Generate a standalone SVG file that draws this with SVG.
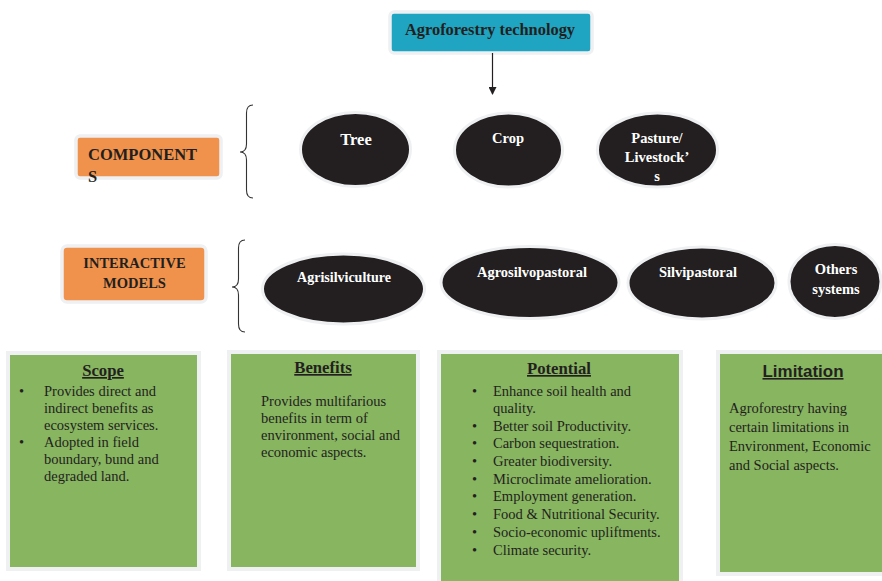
<svg xmlns="http://www.w3.org/2000/svg" width="882" height="581" viewBox="0 0 882 581">
  <defs>
    <style>
      .title { font-family: "Liberation Serif", "Times New Roman", serif; font-weight: bold; font-size: 16.4px; fill: #231F20; }
      .label { font-family: "Liberation Serif", "Times New Roman", serif; font-weight: bold; fill: #231F20; }
      .oval { fill: #231F20; stroke: #EEF0F2; stroke-width: 3; }
      .oval-text { font-family: "Liberation Serif", "Times New Roman", serif; font-weight: bold; fill: #FFFFFF; text-anchor: middle; }
      .orange { fill: #F0924B; stroke: #EEF0F2; stroke-width: 3.5; }
      .green { fill: #88B560; stroke: #EEF0F2; stroke-width: 4; }
      .body { font-family: "Liberation Serif", "Times New Roman", serif; font-size: 14.5px; fill: #231F20; }
      .head { font-family: "Liberation Serif", "Times New Roman", serif; font-weight: bold; font-size: 16.7px; fill: #231F20; text-anchor: middle; text-decoration: underline; }
      .brace { fill: none; stroke: #333333; stroke-width: 1.1; }
    </style>
    <marker id="arrowhead" markerWidth="8" markerHeight="8" refX="7" refY="4" orient="auto" markerUnits="userSpaceOnUse">
      <path d="M0,0 L8,4 L0,8 Z" fill="#231F20"/>
    </marker>
  </defs>

  <rect width="882" height="581" fill="#FFFFFF"/>

  <!-- root node -->
  <g id="agroforestry-technology">
    <rect x="390" y="12" width="202" height="41" rx="4" fill="#1FA4C1" stroke="#EEF0F2" stroke-width="3.5"/>
    <text class="title" x="490" y="35" text-anchor="middle">Agroforestry technology</text>
  </g>

  <!-- connectors -->
  <g id="connectors">
    <line x1="492.5" y1="53" x2="492.5" y2="94" stroke="#231F20" stroke-width="1.2" marker-end="url(#arrowhead)"/>
    <path class="brace" d="M253,105 Q246.5,105 246.5,113 L246.5,144 Q246.5,152 240,152 Q246.5,152 246.5,160 L246.5,190 Q246.5,198 253,198"/>
    <path class="brace" d="M245,240 Q238.5,240 238.5,248 L238.5,279 Q238.5,287 232,287 Q238.5,287 238.5,295 L238.5,324 Q238.5,332 245,332"/>
  </g>

  <!-- row: components -->
  <g id="components">
    <rect class="orange" x="76" y="136" width="145" height="42" rx="4"/>
    <text class="label" x="88" y="160" style="font-size:16.5px">COMPONENT</text>
    <text class="label" x="88" y="182" style="font-size:16.5px">S</text>
  </g>
  <g id="tree">
    <ellipse class="oval" cx="355.5" cy="149.5" rx="55" ry="37"/>
    <text class="oval-text" x="356" y="145" style="font-size:16.5px">Tree</text>
  </g>
  <g id="crop">
    <ellipse class="oval" cx="508.5" cy="150" rx="54" ry="37"/>
    <text class="oval-text" x="508" y="143" style="font-size:14.5px">Crop</text>
  </g>
  <g id="pasture-livestock">
    <ellipse class="oval" cx="657.5" cy="150" rx="60" ry="37"/>
    <g style="font-size:14.5px">
      <text class="oval-text" x="657" y="143">Pasture/</text>
      <text class="oval-text" x="657" y="162">Livestock’</text>
      <text class="oval-text" x="657" y="181">s</text>
    </g>
  </g>

  <!-- row: interactive models -->
  <g id="interactive-models">
    <rect class="orange" x="62" y="246" width="144" height="56" rx="5"/>
    <text class="label" x="134.5" y="268" style="font-size:14.5px" text-anchor="middle">INTERACTIVE</text>
    <text class="label" x="134.5" y="288" style="font-size:14.5px" text-anchor="middle">MODELS</text>
  </g>
  <g id="agrisilviculture">
    <ellipse class="oval" cx="343.5" cy="289" rx="81" ry="35"/>
    <text class="oval-text" x="344" y="282" style="font-size:14px">Agrisilviculture</text>
  </g>
  <g id="agrosilvopastoral">
    <ellipse class="oval" cx="530" cy="282.5" rx="89" ry="36"/>
    <text class="oval-text" x="532" y="277" style="font-size:14.5px">Agrosilvopastoral</text>
  </g>
  <g id="silvipastoral">
    <ellipse class="oval" cx="702" cy="283" rx="74" ry="36"/>
    <text class="oval-text" x="698" y="277" style="font-size:14.5px">Silvipastoral</text>
  </g>
  <g id="others-systems">
    <ellipse class="oval" cx="835" cy="281.5" rx="46" ry="37"/>
    <g style="font-size:14.5px">
      <text class="oval-text" x="836" y="274">Others</text>
      <text class="oval-text" x="836" y="294">systems</text>
    </g>
  </g>

  <!-- row: detail panels -->
  <g id="scope">
    <rect class="green" x="8" y="353" width="191" height="216"/>
    <text class="head" x="103" y="376">Scope</text>
    <g class="body">
      <text x="19" y="396">•</text>
      <text x="44" y="396">Provides direct and</text>
      <text x="44" y="413">indirect benefits as</text>
      <text x="44" y="430">ecosystem services.</text>
      <text x="19" y="447">•</text>
      <text x="44" y="447">Adopted in field</text>
      <text x="44" y="464">boundary, bund and</text>
      <text x="44" y="481">degraded land.</text>
    </g>
  </g>
  <g id="benefits">
    <rect class="green" x="229" y="352" width="189" height="217"/>
    <text class="head" x="323" y="373">Benefits</text>
    <g class="body">
      <text x="261" y="406">Provides multifarious</text>
      <text x="261" y="423">benefits in term of</text>
      <text x="261" y="440">environment, social and</text>
      <text x="261" y="457">economic aspects.</text>
    </g>
  </g>
  <g id="potential">
    <rect class="green" x="439" y="352" width="242" height="234"/>
    <text class="head" x="559" y="374">Potential</text>
    <g class="body">
      <text x="472" y="396">•</text><text x="493" y="396">Enhance soil health and</text>
      <text x="493" y="413">quality.</text>
      <text x="472" y="431">•</text><text x="493" y="431">Better soil Productivity.</text>
      <text x="472" y="448">•</text><text x="493" y="448">Carbon sequestration.</text>
      <text x="472" y="466">•</text><text x="493" y="466">Greater biodiversity.</text>
      <text x="472" y="484">•</text><text x="493" y="484">Microclimate amelioration.</text>
      <text x="472" y="501">•</text><text x="493" y="501">Employment generation.</text>
      <text x="472" y="519">•</text><text x="493" y="519">Food &amp; Nutritional Security.</text>
      <text x="472" y="537">•</text><text x="493" y="537">Socio-economic upliftments.</text>
      <text x="472" y="555">•</text><text x="493" y="555">Climate security.</text>
    </g>
  </g>
  <g id="limitation">
    <rect class="green" x="718" y="352" width="170" height="222"/>
    <text x="803" y="377" text-anchor="middle" font-family="'Liberation Sans', Arial, sans-serif" font-weight="bold" font-size="16px" fill="#231F20" text-decoration="underline" textLength="81" lengthAdjust="spacingAndGlyphs">Limitation</text>
    <g class="body">
      <text x="729" y="413">Agroforestry having</text>
      <text x="729" y="432">certain limitations in</text>
      <text x="729" y="451">Environment, Economic</text>
      <text x="729" y="470">and Social aspects.</text>
    </g>
  </g>
</svg>
